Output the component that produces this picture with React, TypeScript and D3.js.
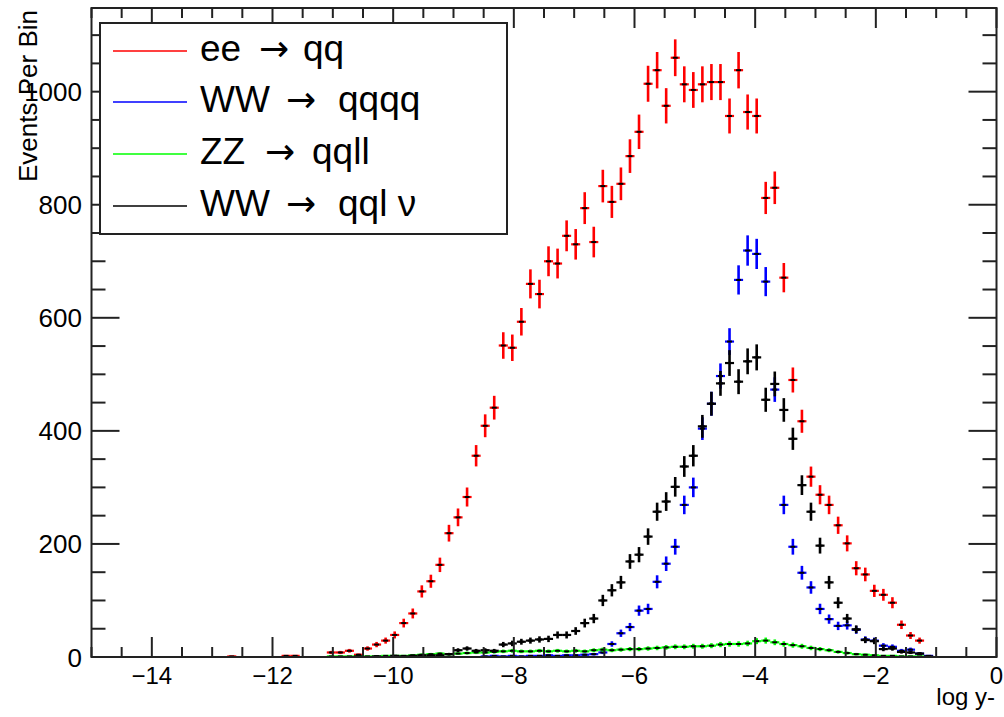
import React, { useEffect, useRef } from 'react'
import { range, scaleLinear, select } from 'd3'

// histogram binning: 100 bins between -15 and 0
const binLow = -15
const binHigh = 0
const nBins = 100

// ee -> qq
const eeToQQ = [
  0, 0, 0, 0, 0, 0, 0, 0, 0, 0,
  0, 0, 0, 0, 0, 1, 0, 0, 0, 0,
  0, 2, 2, 0, 0, 0, 8, 8, 11, 4,
  15, 22, 29, 39, 60, 77, 116, 134, 163, 219,
  247, 283, 356, 409, 441, 551, 547, 593, 660, 642,
  700, 696, 745, 730, 794, 734, 833, 805, 837, 886,
  929, 1014, 1038, 975, 1060, 1013, 1003, 1013, 1017, 1017,
  957, 1038, 964, 957, 812, 830, 671, 490, 417, 319,
  287, 269, 233, 201, 157, 146, 117, 110, 96, 57,
  38, 29, 0, 0, 0, 0, 0, 0, 0, 0,
]

// WW -> qqqq
const wwToQQQQ = [
  0, 0, 0, 0, 0, 0, 0, 0, 0, 0,
  0, 0, 0, 0, 0, 0, 0, 0, 0, 0,
  0, 0, 0, 0, 0, 0, 0, 0, 0, 0,
  0, 0, 0, 0, 0, 0, 0, 0, 0, 0,
  0, 0, 0, 1, 2, 1, 2, 1, 2, 2,
  3, 2, 3, 3, 4, 5, 8, 23, 42, 53,
  82, 85, 133, 165, 195, 269, 300, 404, 448, 497,
  558, 667, 719, 713, 664, 473, 269, 195, 149, 123,
  85, 67, 55, 56, 48, 31, 29, 20, 18, 11,
  13, 6, 2, 0, 0, 0, 0, 0, 0, 0,
]

// ZZ -> qqll
const zzToQQLL = [
  0, 0, 0, 0, 0, 0, 0, 0, 0, 0,
  0, 0, 0, 0, 0, 0, 0, 0, 0, 0,
  0, 0, 0, 0, 0, 0, 1, 1, 1, 1,
  1, 1, 2, 2, 2, 3, 4, 5, 6, 5,
  6, 7, 8, 8, 9, 10, 11, 10, 10, 11,
  10, 11, 10, 11, 10, 12, 13, 12, 13, 14,
  14, 15, 16, 17, 18, 18, 19, 19, 20, 22,
  23, 23, 24, 28, 29, 26, 23, 21, 19, 16,
  14, 12, 9, 7, 5, 4, 3, 2, 2, 1,
  1, 1, 0, 0, 0, 0, 0, 0, 0, 0,
]

// WW -> qqlv
const wwToQQLNu = [
  0, 0, 0, 0, 0, 0, 0, 0, 0, 0,
  0, 0, 0, 0, 0, 0, 0, 0, 0, 0,
  0, 0, 0, 0, 0, 0, 0, 0, 0, 1,
  0, 1, 0, 2, 1, 2, 3, 3, 3, 5,
  12, 15, 11, 12, 11, 22, 24, 27, 29, 31,
  32, 39, 39, 46, 60, 68, 100, 118, 132, 169,
  181, 213, 257, 275, 301, 337, 356, 408, 448, 484,
  520, 487, 523, 530, 455, 483, 437, 386, 304, 257,
  197, 132, 96, 68, 49, 30, 28, 14, 15, 9,
  8, 6, 1, 0, 0, 0, 0, 0, 0, 0,
]

const xTickLabels = [-14, -12, -10, -8, -6, -4, -2, 0]
const yTickLabels = [0, 200, 400, 600, 800, 1000]
const legendFrom = ['ee', 'WW', 'ZZ', 'WW']
const legendTo = ['qq', 'qqqq', 'qqll', 'qql ν']

const App = () => {
  const ref = useRef(null)

  useEffect(() => {
    main()
  }, [])

  const main = () => {
    const width = 1004,
      height = 717,
      left = 91.5,
      right = 996.5,
      top = 8,
      bottom = 657,
      font = 'Liberation Sans, Arial, sans-serif',
      axisColor = '#222'

    const svg = select(ref.current)
    svg.selectAll('*').remove()
    svg.attr('width', width).attr('height', height).attr('viewBox', `0 0 ${width} ${height}`)

    const xScale = scaleLinear().domain([binLow, binHigh]).range([left, right]),
      yScale = scaleLinear().domain([0, 1148]).range([bottom, top])

    svg.append('rect').attr('width', width).attr('height', height).attr('fill', 'white')

    // data
    const binWidth = (binHigh - binLow) / nBins
    const series = [
      { values: eeToQQ, color: '#ff0000' },
      { values: wwToQQQQ, color: '#0000ff' },
      { values: zzToQQLL, color: '#00ff00' },
      { values: wwToQQLNu, color: '#000000' },
    ]

    series.forEach((s) => {
      const pts = s.values
        .map((v, i) => ({ v, lo: binLow + i * binWidth, mid: binLow + (i + 0.5) * binWidth, hi: binLow + (i + 1) * binWidth }))
        .filter((d) => d.v > 0)
      const g = svg.append('g')
      g.selectAll('.h')
        .data(pts)
        .enter()
        .append('line')
        .attr('x1', (d) => xScale(d.lo))
        .attr('x2', (d) => xScale(d.hi))
        .attr('y1', (d) => yScale(d.v))
        .attr('y2', (d) => yScale(d.v))
        .attr('stroke', s.color)
        .attr('stroke-width', 2.2)
      g.selectAll('.v')
        .data(pts)
        .enter()
        .append('line')
        .attr('x1', (d) => xScale(d.mid))
        .attr('x2', (d) => xScale(d.mid))
        .attr('y1', (d) => yScale(Math.max(0, d.v - Math.sqrt(d.v))))
        .attr('y2', (d) => yScale(d.v + Math.sqrt(d.v)))
        .attr('stroke', s.color)
        .attr('stroke-width', 2.6)
      g.selectAll('.m')
        .data(pts)
        .enter()
        .append('rect')
        .attr('x', (d) => xScale(d.mid) - 2.5)
        .attr('y', (d) => yScale(d.v) - 1)
        .attr('width', 5)
        .attr('height', 2)
        .attr('fill', 'black')
    })

    // frame and ticks
    svg
      .append('rect')
      .attr('x', left)
      .attr('y', top)
      .attr('width', right - left)
      .attr('height', bottom - top)
      .attr('fill', 'none')
      .attr('stroke', axisColor)
      .attr('stroke-width', 2)

    const ticks = svg.append('g').attr('stroke', axisColor).attr('stroke-width', 2)
    range(binLow, binHigh + 0.25, 0.5).forEach((t) => {
      const len = Math.abs(t % 2) < 1e-6 ? 20 : 10
      ticks.append('line').attr('x1', xScale(t)).attr('x2', xScale(t)).attr('y1', bottom).attr('y2', bottom - len)
      ticks.append('line').attr('x1', xScale(t)).attr('x2', xScale(t)).attr('y1', top).attr('y2', top + len)
    })
    range(0, 1148, 50).forEach((t) => {
      const len = t % 200 === 0 ? 28 : 14
      ticks.append('line').attr('x1', left).attr('x2', left + len).attr('y1', yScale(t)).attr('y2', yScale(t))
      ticks.append('line').attr('x1', right).attr('x2', right - len).attr('y1', yScale(t)).attr('y2', yScale(t))
    })

    svg
      .append('g')
      .selectAll('text')
      .data(xTickLabels)
      .enter()
      .append('text')
      .attr('x', (d) => xScale(d))
      .attr('y', 684)
      .attr('text-anchor', 'middle')
      .attr('font-family', font)
      .attr('font-size', 24)
      .attr('fill', 'black')
      .text((d) => (d < 0 ? '\u2212' + Math.abs(d) : String(d)))

    svg
      .append('g')
      .selectAll('text')
      .data(yTickLabels)
      .enter()
      .append('text')
      .attr('x', 82)
      .attr('y', (d) => yScale(d) + 9.5)
      .attr('text-anchor', 'end')
      .attr('font-family', font)
      .attr('font-size', 26)
      .attr('fill', 'black')
      .text((d) => d)

    svg
      .append('text')
      .attr('x', 995)
      .attr('y', 705)
      .attr('text-anchor', 'end')
      .attr('font-family', font)
      .attr('font-size', 24)
      .text('log y-')

    svg
      .append('text')
      .attr('transform', 'translate(37, 10) rotate(-90)')
      .attr('text-anchor', 'end')
      .attr('font-family', font)
      .attr('font-size', 26)
      .text('Events Per Bin')

    // legend
    svg
      .append('rect')
      .attr('x', 100)
      .attr('y', 23)
      .attr('width', 407)
      .attr('height', 211)
      .attr('fill', 'white')
      .attr('stroke', axisColor)
      .attr('stroke-width', 2)

    const rowY = [51, 102, 154, 206]
    const arrowX = [[259, 303], [286, 338], [265, 312], [286, 338]]
    legendFrom.forEach((name, i) => {
      svg
        .append('line')
        .attr('x1', 113)
        .attr('x2', 187)
        .attr('y1', rowY[i])
        .attr('y2', rowY[i])
        .attr('stroke', series[i].color)
        .attr('stroke-width', 1.5)
      const t = svg
        .append('text')
        .attr('y', rowY[i] + 10)
        .attr('font-family', font)
        .attr('font-size', 37)
        .attr('fill', 'black')
      t.append('tspan').attr('x', 200).text(name)
      t.append('tspan')
        .attr('x', arrowX[i][0])
        .attr('font-family', 'DejaVu Sans, sans-serif')
        .attr('font-size', 36)
        .text('\u2192')
      t.append('tspan').attr('x', arrowX[i][1]).text(legendTo[i])
    })
  }

  return (
    <div style={{ position: 'absolute', left: 0, top: 0 }}>
      <svg ref={ref} style={{ display: 'block' }}></svg>
    </div>
  )
}

export default App
